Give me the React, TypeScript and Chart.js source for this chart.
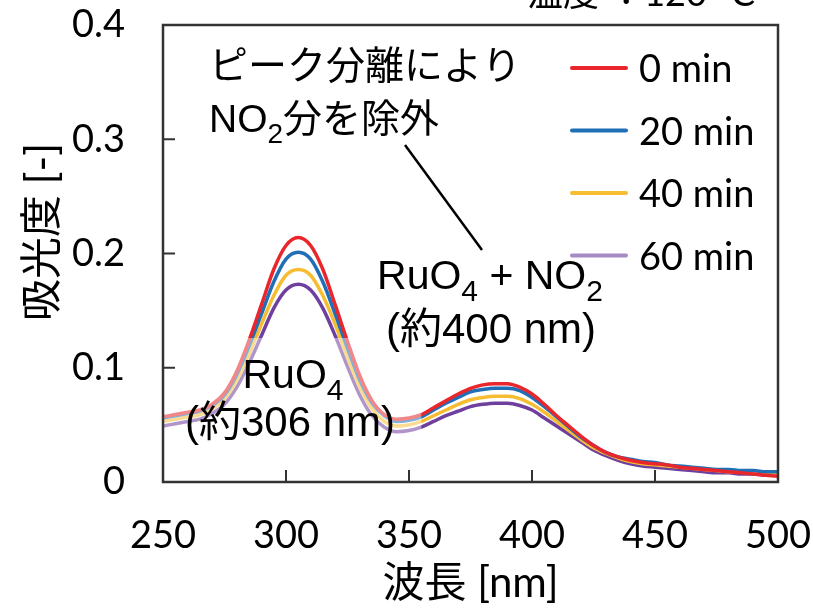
import React, { useEffect, useRef } from "react";
import { Chart, registerables } from "chart.js";
Chart.register(...registerables);

const wavelengths = [250,255,260,265,270,275,280,285,290,295,300,305,310,315,320,325,330,335,340,345,350,355,360,365,370,375,380,385,390,395,400,405,410,415,420,425,430,435,440,445,450,455,460,465,470,475,480,485,490,495,500];
const abs0min = [.057,.059,.061,.063,.068,.078,.097,.124,.155,.186,.207,.214,.207,.186,.155,.123,.093,.071,.059,.055,.056,.059,.065,.071,.077,.082,.085,.086,.086,.083,.077,.068,.058,.049,.040,.032,.026,.022,.019,.017,.016,.015,.013,.012,.011,.010,.009,.008,.007,.006,.005];
const abs20min = [.056,.058,.060,.062,.067,.076,.094,.119,.147,.175,.195,.201,.195,.175,.147,.117,.089,.069,.058,.053,.054,.057,.063,.069,.074,.079,.081,.082,.082,.080,.074,.066,.057,.048,.039,.032,.026,.022,.020,.018,.017,.015,.014,.013,.012,.011,.011,.010,.010,.009,.009];
const abs40min = [.053,.055,.057,.059,.064,.073,.089,.112,.138,.163,.181,.186,.181,.163,.138,.109,.083,.064,.053,.049,.050,.053,.058,.063,.068,.072,.074,.075,.075,.073,.068,.061,.053,.045,.037,.030,.025,.021,.018,.016,.015,.014,.013,.012,.011,.010,.009,.009,.008,.008,.007];
const abs60min = [.049,.051,.053,.055,.060,.068,.083,.104,.128,.152,.168,.173,.168,.152,.128,.101,.076,.058,.048,.044,.045,.048,.053,.058,.062,.066,.068,.069,.069,.067,.063,.056,.049,.042,.035,.028,.023,.019,.016,.014,.013,.012,.011,.010,.009,.008,.008,.007,.007,.006,.006];
const seriesLabels = ["0 min", "20 min", "40 min", "60 min"];
const lineColors = ["#e8262b", "#1f6eb6", "#f6bd33", "#6f3f9e"];
const legendColors = ["#e8262b", "#1f6eb6", "#f6bd33", "#a68ac3"];
const xTickValues = [250, 300, 350, 400, 450, 500];
const yTickValues = [0, 0.1, 0.2, 0.3, 0.4];
const xTitle = "波長 [nm]";
const yTitle = "吸光度 [-]";
const tempText = "温度 ：120 °C";

const LATIN = "Lato, 'Noto Sans CJK JP', sans-serif";
const ANNO = "'Liberation Sans', 'Noto Sans CJK JP', sans-serif";

type Seg = { t: string; sub?: boolean };

function drawRich(ctx: CanvasRenderingContext2D, segs: Seg[], x: number, y: number, size: number, align: "left" | "center") {
  const subSize = Math.round(size * 0.72);
  let total = 0;
  const widths = segs.map((s) => {
    ctx.font = `${s.sub ? subSize : size}px ${ANNO}`;
    const w = ctx.measureText(s.t).width;
    total += w;
    return w;
  });
  let cx = align === "center" ? x - total / 2 : x;
  ctx.textAlign = "left";
  ctx.textBaseline = "middle";
  ctx.fillStyle = "#000";
  segs.forEach((s, i) => {
    ctx.font = `${s.sub ? subSize : size}px ${ANNO}`;
    ctx.fillText(s.t, cx, s.sub ? y + size * 0.36 : y);
    cx += widths[i];
  });
}

const decorPlugin = {
  id: "decor",
  afterDatasetsDraw(chart: any) {
    const ctx: CanvasRenderingContext2D = chart.ctx;
    const { left, right, top, bottom } = chart.chartArea;
    const xs = chart.scales.x;
    const ys = chart.scales.y;
    ctx.save();
    // translucent label background
    ctx.fillStyle = "rgba(255,255,255,0.45)";
    ctx.fillRect(left, 338, xs.getPixelForValue(355) - left, 107);

    // frame
    ctx.strokeStyle = "#333";
    ctx.lineWidth = 2.5;
    ctx.strokeRect(left, top, right - left, bottom - top);
    // inward ticks
    ctx.lineWidth = 2;
    xTickValues.forEach((v) => {
      const px = xs.getPixelForValue(v);
      ctx.beginPath();
      ctx.moveTo(px, bottom);
      ctx.lineTo(px, bottom - 12);
      ctx.stroke();
    });
    yTickValues.forEach((v) => {
      const py = ys.getPixelForValue(v);
      ctx.beginPath();
      ctx.moveTo(left, py);
      ctx.lineTo(left + 12, py);
      ctx.stroke();
    });

    // y axis title
    ctx.save();
    ctx.translate(42, 232);
    ctx.rotate(-Math.PI / 2);
    ctx.font = `42px ${LATIN}`;
    ctx.fillStyle = "#000";
    ctx.textAlign = "center";
    ctx.textBaseline = "middle";
    ctx.fillText(yTitle, 0, 0);
    ctx.restore();

    // legend
    chart.data.datasets.forEach((ds: any, i: number) => {
      const y = 68 + i * 62.5;
      ctx.strokeStyle = legendColors[i];
      ctx.lineWidth = 4;
      ctx.lineCap = "round";
      ctx.beginPath();
      ctx.moveTo(572, y);
      ctx.lineTo(626, y);
      ctx.stroke();
      ctx.fillStyle = "#000";
      ctx.font = `38px ${LATIN}`;
      ctx.textAlign = "left";
      ctx.textBaseline = "middle";
      ctx.fillText(ds.label, 639, y + 2);
    });

    // callout line
    ctx.strokeStyle = "#000";
    ctx.lineWidth = 2.5;
    ctx.lineCap = "butt";
    ctx.beginPath();
    ctx.moveTo(405, 145);
    ctx.lineTo(482, 250);
    ctx.stroke();

    // annotations
    drawRich(ctx, [{ t: "ピーク分離により" }], 209, 68, 39, "left");
    drawRich(ctx, [{ t: "NO" }, { t: "2", sub: true }, { t: "分を除外" }], 209, 121, 39, "left");
    drawRich(ctx, [{ t: "RuO" }, { t: "4", sub: true }, { t: " + NO" }, { t: "2", sub: true }], 490, 278, 41, "center");
    drawRich(ctx, [{ t: "(約400 nm)" }], 491, 331, 42, "center");
    drawRich(ctx, [{ t: "RuO" }, { t: "4", sub: true }], 293, 377, 41, "center");
    drawRich(ctx, [{ t: "(約306 nm)" }], 290, 424, 42, "center");

    // temperature text (cut at top edge)
    ctx.font = `36px ${LATIN}`;
    ctx.textAlign = "right";
    ctx.textBaseline = "alphabetic";
    ctx.fillStyle = "#000";
    ctx.fillText(tempText, 755, 6);
    ctx.restore();
  },
};

export default function App() {
  const ref = useRef<HTMLCanvasElement>(null);
  useEffect(() => {
    if (!ref.current) return;
    const series = [abs0min, abs20min, abs40min, abs60min];
    const chart = new Chart(ref.current, {
      type: "line",
      data: {
        datasets: series.map((s, i) => ({
          label: seriesLabels[i],
          data: wavelengths.map((w, j) => ({ x: w, y: s[j] })),
          borderColor: lineColors[i],
          borderWidth: 3.5,
          pointRadius: 0,
          tension: 0.4,
          cubicInterpolationMode: "monotone" as const,
          fill: false,
        })),
      },
      options: {
        responsive: false,
        animation: false,
        layout: { padding: { left: 0, top: 25, right: 35, bottom: 0 } },
        plugins: { legend: { display: false }, tooltip: { enabled: false }, title: { display: false } },
        scales: {
          x: {
            type: "linear",
            min: 250,
            max: 500,
            afterBuildTicks: (s: any) => {
              s.ticks = xTickValues.map((v) => ({ value: v }));
            },
            afterFit: (s: any) => {
              s.height = 127;
              s.paddingLeft = 0;
              s.paddingRight = 0;
            },
            ticks: {
              font: { family: LATIN, size: 38 },
              color: "#000",
              padding: 31,
              maxRotation: 0,
              autoSkip: false,
              callback: (v: any) => String(v),
            },
            grid: { display: false, drawTicks: false },
            border: { display: false },
            title: {
              display: true,
              text: xTitle,
              color: "#000",
              font: { family: LATIN, size: 42 },
              padding: { top: 0, bottom: 0 },
            },
          },
          y: {
            min: 0,
            max: 0.4,
            afterBuildTicks: (s: any) => {
              s.ticks = yTickValues.map((v) => ({ value: v }));
            },
            afterFit: (s: any) => {
              s.width = 163;
              s.paddingTop = 0;
              s.paddingBottom = 0;
            },
            ticks: {
              font: { family: LATIN, size: 38 },
              color: "#000",
              padding: 38,
              callback: (v: any) => (v === 0 ? "0" : Number(v).toFixed(1)),
            },
            grid: { display: false, drawTicks: false },
            border: { display: false },
            title: { display: false },
          },
        },
      },
      plugins: [decorPlugin],
    });
    return () => chart.destroy();
  }, []);
  return (
    <div style={{ position: "fixed", left: 0, top: 0, width: 813, height: 609, background: "#fff" }}>
      <canvas ref={ref} width={813} height={609} style={{ width: 813, height: 609 }} />
    </div>
  );
}
